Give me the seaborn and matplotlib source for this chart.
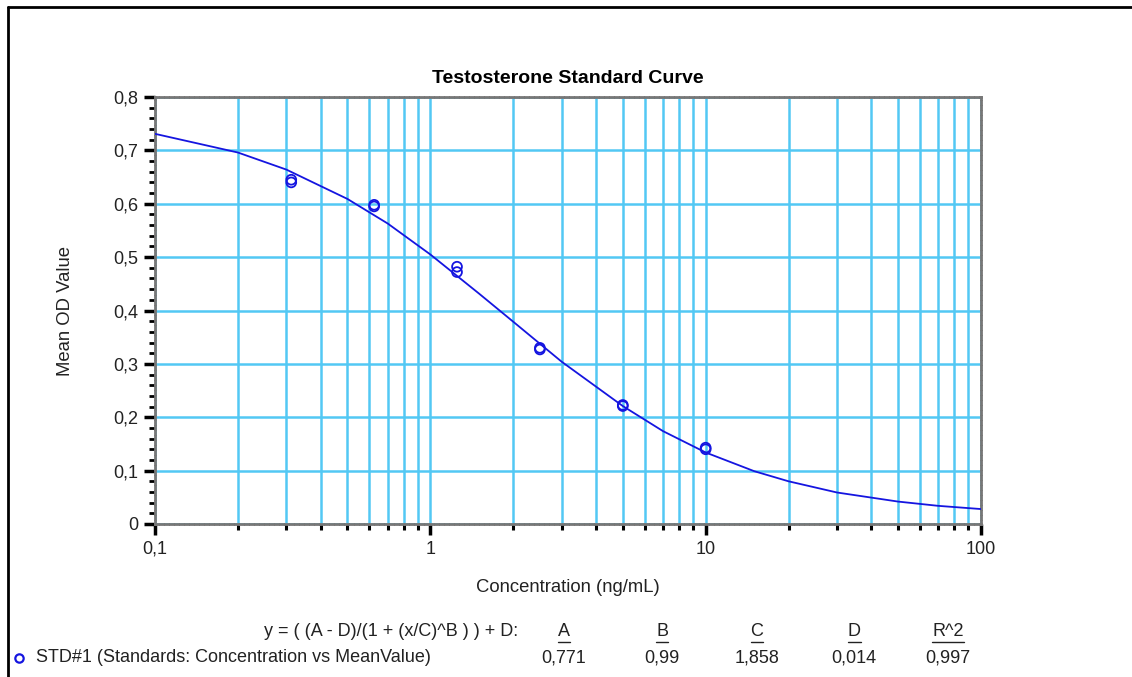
import numpy as np
import pandas as pd
import matplotlib
matplotlib.use("Agg")
import matplotlib.pyplot as plt
from matplotlib.ticker import FixedLocator, LogLocator, NullFormatter, MultipleLocator
from matplotlib.lines import Line2D
import seaborn as sns

# ---- data ----
conc = [0.3125, 0.625, 1.25, 2.5, 5, 10]
od_rep1 = [0.645, 0.598, 0.482, 0.330, 0.223, 0.143]
od_rep2 = [0.640, 0.595, 0.472, 0.327, 0.221, 0.140]

curve_x = [0.1, 0.2, 0.3, 0.5, 0.7, 1, 1.5, 2, 3, 5, 7, 10, 15, 20, 30, 50, 70, 100]
curve_y = [0.731, 0.696, 0.664, 0.609, 0.563, 0.505, 0.432, 0.379, 0.304, 0.221,
           0.174, 0.134, 0.099, 0.080, 0.059, 0.042, 0.034, 0.028]

param_names = ["A", "B", "C", "D", "R^2"]
param_values = ["0,771", "0,99", "1,858", "0,014", "0,997"]

x_ticks = [0.1, 1, 10, 100]
x_tick_labels = ["0,1", "1", "10", "100"]
y_ticks = [0, 0.1, 0.2, 0.3, 0.4, 0.5, 0.6, 0.7, 0.8]
y_tick_labels = ["0", "0,1", "0,2", "0,3", "0,4", "0,5", "0,6", "0,7", "0,8"]

title = "Testosterone Standard Curve"
xlabel = "Concentration (ng/mL)"
ylabel = "Mean OD Value"
equation = "y = ( (A - D)/(1 + (x/C)^B ) ) + D:"
series_label = "STD#1 (Standards: Concentration vs MeanValue)"

# ---- style ----
sns.set_style("white")
plt.rcParams["font.family"] = ["Liberation Sans", "DejaVu Sans"]

W, H = 1132, 677
fig = plt.figure(figsize=(W / 100, H / 100), dpi=100)
ax = fig.add_axes([155 / W, 1 - 524 / H, (981 - 155) / W, (524 - 97) / H])

grid_color = "#52c8f4"
curve_color = "#1515e0"
text_color = "#222222"

ax.set_xscale("log")
ax.set_xlim(0.1, 100)
ax.set_ylim(0, 0.8)

# grid
ax.xaxis.set_major_locator(FixedLocator(x_ticks))
ax.xaxis.set_minor_locator(LogLocator(base=10, subs=np.arange(2, 10)))
ax.xaxis.set_minor_formatter(NullFormatter())
ax.yaxis.set_major_locator(FixedLocator(y_ticks))
ax.yaxis.set_minor_locator(MultipleLocator(0.02))
ax.grid(which="major", axis="both", color=grid_color, linewidth=1.8, linestyle="-", zorder=0)
ax.grid(which="minor", axis="x", color=grid_color, linewidth=1.8, linestyle="-", zorder=0)
ax.grid(which="minor", axis="y", visible=False)
ax.set_axisbelow(True)

# curve
df_curve = pd.DataFrame({"x": curve_x, "y": curve_y})
sns.lineplot(data=df_curve, x="x", y="y", ax=ax, color=curve_color, linewidth=1.3, zorder=3)

# points
df_pts = pd.DataFrame({"x": conc + conc, "y": od_rep1 + od_rep2})
sns.scatterplot(data=df_pts, x="x", y="y", ax=ax, marker="o", s=50,
                facecolors="none", edgecolor=curve_color, linewidth=1.3, zorder=4)

ax.set_xticks(x_ticks)
ax.set_xticklabels(x_tick_labels)
ax.set_yticks(y_ticks)
ax.set_yticklabels(y_tick_labels)

ax.tick_params(axis="both", which="both", bottom=True, left=True, top=False, right=False)
ax.tick_params(axis="both", which="major", direction="out", length=8, width=2.5,
               color="black", labelsize=13, labelcolor=text_color, pad=4)
ax.tick_params(axis="x", which="minor", direction="out", length=4, width=2.2, color="black")
ax.tick_params(axis="y", which="minor", direction="out", length=4, width=2.0, color="black")

for side, sp in ax.spines.items():
    sp.set_visible(True)
    sp.set_color("#777777")
    sp.set_linewidth(2.0)
    sp.set_linestyle((0, (1, 0.8)))

ax.set_xlabel(xlabel, fontsize=13.3, color=text_color, labelpad=15)
ax.set_ylabel(ylabel, fontsize=13.3, color=text_color, labelpad=28)
ax.set_title(title, fontsize=14, fontweight="bold", color="black", pad=10)

# outer border (top and left visible)
fig.add_artist(Line2D([8 / W, 8 / W], [0, 1 - 7 / H], color="black", linewidth=2, transform=fig.transFigure))
fig.add_artist(Line2D([8 / W, 1], [1 - 7 / H, 1 - 7 / H], color="black", linewidth=2, transform=fig.transFigure))

# bottom legend / parameter table
fs = 13
fig.text(518 / W, 1 - 632 / H, equation, ha="right", va="center", fontsize=fs, color=text_color)
fig.text(36 / W, 1 - 658 / H, series_label, ha="left", va="center", fontsize=fs, color=text_color)
fig.add_artist(Line2D([19 / W], [1 - 658 / H], marker="o", markersize=6, markerfacecolor="none",
                      markeredgecolor=curve_color, markeredgewidth=1.6, linestyle="none",
                      transform=fig.transFigure))
col_x = [564, 662, 757, 854, 948]
for cx, name, val in zip(col_x, param_names, param_values):
    t = fig.text(cx / W, 1 - 632 / H, name, ha="center", va="center", fontsize=fs, color=text_color)
    fig.text(cx / W, 1 - 658 / H, val, ha="center", va="center", fontsize=fs, color=text_color)
    fig.canvas.draw()
    bb = t.get_window_extent()
    y_line = bb.y0 - 1
    fig.add_artist(Line2D([bb.x0 / W, bb.x1 / W], [y_line / H, y_line / H], color=text_color,
                          linewidth=1, transform=fig.transFigure))

fig.savefig("out.png", dpi=100)
